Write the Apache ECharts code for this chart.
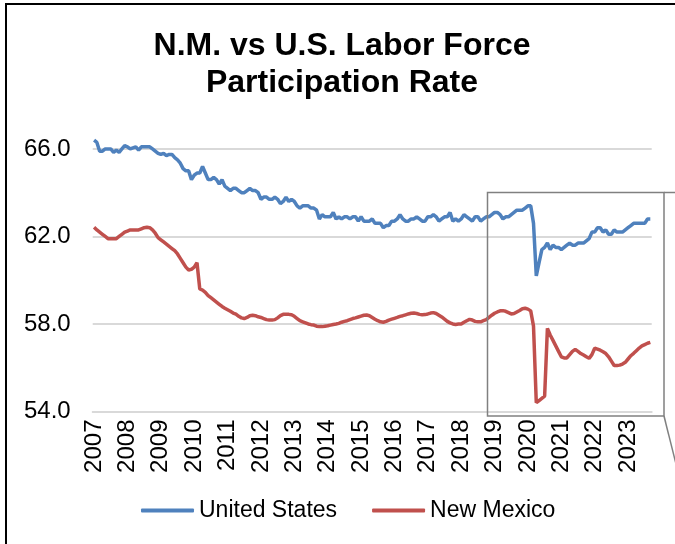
<!DOCTYPE html>
<html>
<head>
    <title>N.M. vs U.S. Labor Force Participation Rate</title>
    <meta charset="UTF-8">
    <script src="https://cdn.jsdelivr.net/npm/echarts@6/dist/echarts.min.js"></script>
    <style>
        html, body { margin: 0; padding: 0; background: #fff; }
        #lfpr-chart { width: 675px; height: 544px; }
    </style>
</head>
<body>
<div id="lfpr-chart"></div>

<script>
    // tick labels on the x axis: one per January
    var years = [2007, 2008, 2009, 2010, 2011, 2012, 2013, 2014, 2015, 2016, 2017, 2018, 2019, 2020, 2021, 2022, 2023];
    var lastYearMonths = 9;

    // monthly participation rate, Jan 2007 .. Sep 2023, one row per year
    var usRate = [
        66.4, 66.3, 65.9, 65.9, 66.0, 66.0, 66.0, 65.85, 65.95, 65.85, 66.0, 66.15,
        66.1, 66.0, 66.05, 66.1, 65.95, 66.1, 66.1, 66.1, 66.1, 66.0, 65.9, 65.8,
        65.75, 65.8, 65.7, 65.75, 65.75, 65.6, 65.5, 65.35, 65.1, 65.0, 65.0, 64.6,
        64.8, 64.9, 64.9, 65.2, 64.9, 64.6, 64.6, 64.7, 64.6, 64.4, 64.6, 64.3,
        64.2, 64.1, 64.2, 64.2, 64.1, 64.0, 64.0, 64.1, 64.2, 64.1, 64.1, 64.0,
        63.7, 63.8, 63.8, 63.7, 63.7, 63.8, 63.7, 63.5, 63.6, 63.8, 63.6, 63.7,
        63.6, 63.4, 63.3, 63.4, 63.4, 63.4, 63.3, 63.3, 63.2, 62.8, 63.0, 62.9,
        62.9, 62.9, 63.1, 62.8, 62.9, 62.8, 62.9, 62.9, 62.8, 62.9, 62.9, 62.7,
        62.9, 62.7, 62.7, 62.7, 62.8, 62.6, 62.6, 62.6, 62.4, 62.5, 62.5, 62.7,
        62.7, 62.8, 63.0, 62.8, 62.7, 62.7, 62.8, 62.8, 62.9, 62.8, 62.7, 62.7,
        62.9, 62.9, 63.0, 62.9, 62.7, 62.8, 62.9, 62.9, 63.1, 62.7, 62.8, 62.7,
        62.8, 63.0, 62.9, 62.8, 62.7, 62.9, 62.9, 62.7, 62.8, 62.9, 62.9, 63.0,
        63.1, 63.1, 63.0, 62.8, 62.9, 62.9, 63.0, 63.1, 63.2, 63.2, 63.2, 63.3,
        63.4, 63.4, 62.6, 60.2, 60.8, 61.4, 61.5, 61.7, 61.4, 61.6, 61.5, 61.5,
        61.4, 61.5, 61.6, 61.7, 61.6, 61.6, 61.7, 61.7, 61.7, 61.8, 61.9, 62.2,
        62.2, 62.4, 62.4, 62.2, 62.3, 62.1, 62.1, 62.3, 62.2, 62.2, 62.2, 62.3,
        62.4, 62.5, 62.6, 62.6, 62.6, 62.6, 62.6, 62.8, 62.8
    ];

    var nmRate = [
        62.42, 62.3, 62.2, 62.1, 62.0, 61.9, 61.9, 61.9, 61.9, 62.0, 62.1, 62.2,
        62.25, 62.3, 62.3, 62.3, 62.3, 62.35, 62.4, 62.42, 62.4, 62.3, 62.15, 61.95,
        61.85, 61.75, 61.65, 61.55, 61.45, 61.35, 61.2, 61.0, 60.8, 60.6, 60.47, 60.5,
        60.6, 60.8, 59.6, 59.55, 59.45, 59.3, 59.2, 59.1, 59.0, 58.9, 58.8, 58.72,
        58.65, 58.58, 58.5, 58.45, 58.35, 58.28, 58.25, 58.3, 58.38, 58.4, 58.38, 58.33,
        58.3, 58.25, 58.2, 58.18, 58.18, 58.2, 58.28, 58.38, 58.44, 58.45, 58.44, 58.42,
        58.35, 58.25, 58.15, 58.1, 58.05, 58.0, 57.97, 57.95, 57.9, 57.88, 57.88, 57.9,
        57.92, 57.95, 57.98, 58.0, 58.03, 58.08, 58.12, 58.15, 58.2, 58.25, 58.28, 58.32,
        58.36, 58.4, 58.41, 58.38, 58.3, 58.22, 58.15, 58.1, 58.08, 58.12, 58.18, 58.22,
        58.26, 58.3, 58.35, 58.38, 58.42, 58.46, 58.49, 58.5, 58.48, 58.44, 58.42, 58.43,
        58.46, 58.5, 58.52, 58.48, 58.4, 58.32, 58.22, 58.12, 58.05, 58.0, 57.98, 58.0,
        58.0, 58.08, 58.15, 58.21, 58.18, 58.12, 58.1, 58.1, 58.15, 58.2, 58.3, 58.4,
        58.49, 58.55, 58.6, 58.61, 58.58, 58.52, 58.46, 58.48, 58.55, 58.62, 58.7, 58.72,
        58.68, 58.6, 57.9, 54.4, 54.5, 54.6, 54.7, 57.8, 57.5, 57.25, 57.0, 56.75,
        56.5, 56.45, 56.45, 56.6, 56.75, 56.84, 56.75, 56.65, 56.58, 56.5, 56.43, 56.6,
        56.89, 56.85, 56.8, 56.73, 56.65, 56.5, 56.3, 56.1, 56.1, 56.12, 56.17, 56.25,
        56.4, 56.55, 56.66, 56.78, 56.9, 57.0, 57.06, 57.12, 57.16
    ];

    var seriesNames = ['United States', 'New Mexico'];
    var seriesColors = ['#4f81bd', '#c0504d'];

    var months = [];
    years.forEach(function (y, i) {
        var n = (i == years.length - 1) ? lastYearMonths : 12;
        for (var m = 1; m <= n; m++) {
            months.push(y + '-' + (m < 10 ? '0' : '') + m);
        }
    });

    var font = 'Liberation Sans, Arial, sans-serif';

    var option = {
        animation: false,
        title: {
            text: 'N.M. vs U.S. Labor Force\nParticipation Rate',
            left: 342,
            top: 28,
            padding: 0,
            textAlign: 'center',
            textStyle: {
                fontFamily: font,
                fontSize: 32,
                fontWeight: 'bold',
                color: '#000',
                lineHeight: 37
            }
        },
        legend: {
            data: seriesNames,
            left: 136,
            top: 494,
            itemWidth: 53,
            itemHeight: 4,
            itemGap: 35,
            icon: 'roundRect',
            textStyle: { fontFamily: font, fontSize: 23, color: '#000' }
        },
        grid: { left: 92.7, right: 23.3, top: 127.1, bottom: 132.5 },
        xAxis: {
            type: 'category',
            data: months,
            boundaryGap: true,
            axisLine: { lineStyle: { color: '#d9d9d9', width: 2 } },
            axisTick: { interval: 0, length: 7, lineStyle: { color: '#c8c8c8' } },
            axisLabel: {
                interval: function (idx) { return idx % 12 === 0; },
                formatter: function (v) { return v.slice(0, 4); },
                rotate: 90,
                margin: 8,
                fontFamily: font,
                fontSize: 24,
                color: '#000'
            }
        },
        yAxis: {
            type: 'value',
            min: 54,
            max: 67,
            interval: 4,
            axisLine: { show: false },
            axisTick: { show: false },
            axisLabel: {
                formatter: function (v) { return v.toFixed(1); },
                showMaxLabel: false,
                margin: 22,
                fontFamily: font,
                fontSize: 24,
                color: '#000'
            },
            splitLine: { showMaxLine: false, lineStyle: { color: '#d9d9d9', width: 2 } }
        },
        series: [
            {
                name: seriesNames[0],
                type: 'line',
                data: usRate,
                symbol: 'none',
                color: seriesColors[0],
                lineStyle: { width: 3.5, color: seriesColors[0] }
            },
            {
                name: seriesNames[1],
                type: 'line',
                data: nmRate,
                symbol: 'none',
                color: seriesColors[1],
                lineStyle: { width: 3.5, color: seriesColors[1] }
            }
        ],
        graphic: [
            // outer chart frame
            { type: 'rect', shape: { x: 6, y: 4, width: 680, height: 600 },
              style: { fill: 'none', stroke: '#000', lineWidth: 2 }, silent: true },
            // zoom box round the covid years + callout lines
            { type: 'rect', shape: { x: 487.5, y: 192.5, width: 176.5, height: 223.5 },
              style: { fill: 'none', stroke: '#808080', lineWidth: 1.5 }, silent: true, z: 10 },
            { type: 'line', shape: { x1: 664, y1: 192.5, x2: 676, y2: 192.5 },
              style: { stroke: '#808080', lineWidth: 1.5 }, silent: true, z: 10 },
            { type: 'line', shape: { x1: 664, y1: 416, x2: 676, y2: 464 },
              style: { stroke: '#808080', lineWidth: 1.5 }, silent: true, z: 10 }
        ]
    };

    var myChart = echarts.init(document.getElementById('lfpr-chart'));
    myChart.setOption(option);
</script>
</body>
</html>
